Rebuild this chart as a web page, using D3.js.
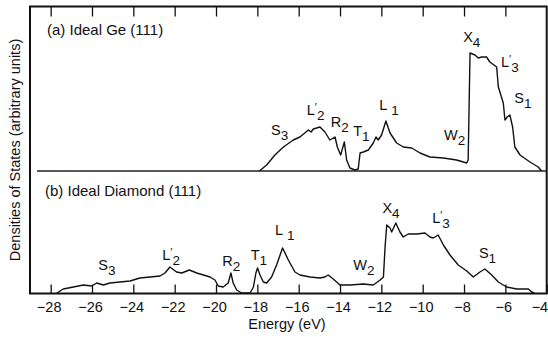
<html>
<head></head>
<body style="margin:0;background:white">
<svg id="svg" width="548" height="337"></svg>
<script src="https://cdn.jsdelivr.net/npm/d3@7"></script>
<script>

// energy axis ticks (eV)
var ticks = [-28, -26, -24, -22, -20, -18, -16, -14, -12, -10, -8, -6, -4];

// (a) ideal Ge (111) density of states, arbitrary units
var geE = [-17.9, -17.55, -17.15, -16.74, -16.26, -15.94, -15.53, -15.4, -15.29, -14.97, -14.73, -14.49,
  -14.24, -14.13, -13.97, -13.79, -13.68, -13.52, -13.28, -13.12, -13.03, -12.87, -12.63, -12.39,
  -12.26, -12.15, -11.99, -11.78, -11.58, -11.26, -10.94, -10.53, -10.13, -9.65, -9.0, -8.36,
  -7.87, -7.8, -7.71, -7.47, -7.31, -7.15, -6.91, -6.75, -6.42, -6.34, -6.1, -6.02, -5.91, -5.78,
  -5.65, -5.54, -5.29, -4.81, -4.41, -4.25];
var geD = [0, 6, 16, 24, 31, 34, 41, 39, 42, 44, 39, 31,
  34, 24, 16, 29, 11, 3, 1, 2, 18, 19, 21, 28,
  34, 31, 36, 50, 38, 28, 24, 23, 18, 14, 13, 11,
  8, 11, 118, 116, 113, 114, 114, 109, 104, 84, 68, 51, 54, 56,
  44, 24, 16, 9, 4, 0];

// (b) ideal diamond (111)
var diE = [-27.7, -27.39, -26.9, -26.42, -26.02, -25.77, -25.45, -25.13, -24.65, -24.16, -23.68, -23.19,
  -22.71, -22.47, -22.23, -21.91, -21.66, -21.29, -20.93, -20.45, -20.29, -20.05, -19.89, -19.65,
  -19.41, -19.28, -19.17, -19.0, -18.76, -18.35, -18.19, -18.07, -17.99, -17.87, -17.71, -17.55,
  -17.31, -17.07, -16.78, -16.5, -16.18, -15.94, -15.45, -14.97, -14.73, -14.57, -14.33, -14.0,
  -13.52, -12.87, -12.39, -12.06, -11.9, -11.82, -11.74, -11.58, -11.5, -11.3, -11.1, -10.94,
  -10.7, -10.29, -9.89, -9.65, -9.49, -9.25, -9.0, -8.68, -8.28, -7.87, -7.55, -7.23,
  -6.99, -6.66, -6.34, -5.94, -5.45, -4.89, -4.72, -4.6];
var diD = [0, 4, 6, 8, 7, 10, 8, 10, 11, 12, 15, 16,
  17, 20, 26, 21, 20, 23, 20, 17, 16, 13, 7, 6,
  10, 20, 10, 3, 0, 0, 6, 20, 25, 18, 11, 10,
  16, 28, 45, 33, 21, 18, 16, 15, 16, 18, 14, 8,
  8, 9, 8, 13, 16, 46, 68, 65, 61, 70, 61, 56,
  59, 59, 60, 56, 55, 58, 48, 38, 28, 22, 16, 21,
  24, 18, 11, 6, 4, 4, 1, 0];

// critical point labels: letter, prime, subscript, energy, height
var geLab = [
  ["S", "", "3", -17.34, 36], ["L", "′", "2", -15.61, 56], ["R", "", "2", -14.45, 44],
  ["T", "", "1", -13.36, 35], ["L", "", "1", -12.1, 61], ["W", "", "2", -8.97, 31],
  ["X", "", "4", -8.04, 129], ["L", "′", "3", -6.21, 104], ["S", "", "1", -5.57, 68]];
var diLab = [
  ["S", "", "3", -25.7, 23], ["L", "′", "2", -22.6, 33], ["R", "", "2", -19.7, 27],
  ["T", "", "1", -18.32, 33], ["L", "", "1", -17.15, 58], ["W", "", "2", -13.36, 23],
  ["X", "", "4", -11.95, 80], ["L", "′", "3", -9.54, 70], ["S", "", "1", -7.28, 35]];

var svg = d3.select("#svg");
var font = "'Liberation Sans', Arial, sans-serif";

var x = d3.scaleLinear().domain([-29, -4]).range([30, 546.7]);
var yA = d3.scaleLinear().domain([0, 120]).range([171, 51]);
var yB = d3.scaleLinear().domain([0, 120]).range([293, 173]);

// frame
svg.append("rect")
  .attr("x", 30).attr("y", 6.5).attr("width", 516.7).attr("height", 287)
  .style("fill", "none").style("stroke", "#111").style("stroke-width", 2);

// bottom axis with inward ticks
var ax = svg.append("g").attr("transform", "translate(0,293.5)")
  .call(d3.axisBottom(x).tickValues(ticks).tickSizeInner(-9).tickSizeOuter(0).tickPadding(8));
ax.select(".domain").remove();
ax.selectAll("line").style("stroke", "#111").style("stroke-width", 1.3);
ax.selectAll("text").style("font-family", font).style("font-size", "14.5px").style("fill", "#111")
  .attr("dx", "-2");
// last label sits against the right edge
ax.selectAll(".tick").filter(d => d == -4).select("text")
  .attr("text-anchor", "end").attr("dx", "1");

// top ticks
var tx = svg.append("g").attr("transform", "translate(0,6.5)")
  .call(d3.axisTop(x).tickValues(ticks.slice(0, -1)).tickSizeInner(-10).tickSizeOuter(0).tickFormat(""));
tx.select(".domain").remove();
tx.selectAll("line").style("stroke", "#111").style("stroke-width", 1.3);

// Ge baseline
svg.append("line")
  .attr("x1", 37).attr("x2", 546).attr("y1", yA(0)).attr("y2", yA(0))
  .style("stroke", "#222").style("stroke-width", 1.5);

var lineA = d3.line().x((d, i) => x(geE[i])).y(d => yA(d));
var lineB = d3.line().x((d, i) => x(diE[i])).y(d => yB(d));

svg.append("path").attr("d", lineA(geD))
  .style("fill", "none").style("stroke", "#111").style("stroke-width", 1.4).style("stroke-linejoin", "round");
svg.append("path").attr("d", lineB(diD))
  .style("fill", "none").style("stroke", "#111").style("stroke-width", 1.4).style("stroke-linejoin", "round");

function labels(arr, y) {
  arr.forEach(l => {
    var t = svg.append("text")
      .attr("x", x(l[3])).attr("y", y(l[4]))
      .style("font-family", font).style("font-size", "14.5px").style("fill", "#111");
    t.append("tspan").text(l[0]);
    if (l[1]) t.append("tspan").text(l[1]).attr("dy", -4).style("font-size", "11px");
    t.append("tspan").text(l[2]).attr("dy", l[1] ? 9 : 5).attr("dx", l[0] == "L" && !l[1] ? 4 : 0)
      .style("font-size", "13.5px");
  });
}
labels(geLab, yA);
labels(diLab, yB);

// panel titles
svg.append("text").text("(a) Ideal Ge (111)")
  .attr("x", 47).attr("y", 35)
  .style("font-family", font).style("font-size", "15px").style("fill", "#111");
svg.append("text").text("(b) Ideal Diamond (111)")
  .attr("x", 45).attr("y", 196)
  .style("font-family", font).style("font-size", "15px").style("fill", "#111");

// axis titles
svg.append("text").text("Energy (eV)")
  .attr("x", 287).attr("y", 329).attr("text-anchor", "middle")
  .style("font-family", font).style("font-size", "14.5px").style("fill", "#111");
svg.append("text").text("Densities of States (arbitrary units)")
  .attr("transform", "translate(20,150) rotate(-90)").attr("text-anchor", "middle")
  .style("font-family", font).style("font-size", "14.5px").style("fill", "#111");

</script>
</body>
</html>
